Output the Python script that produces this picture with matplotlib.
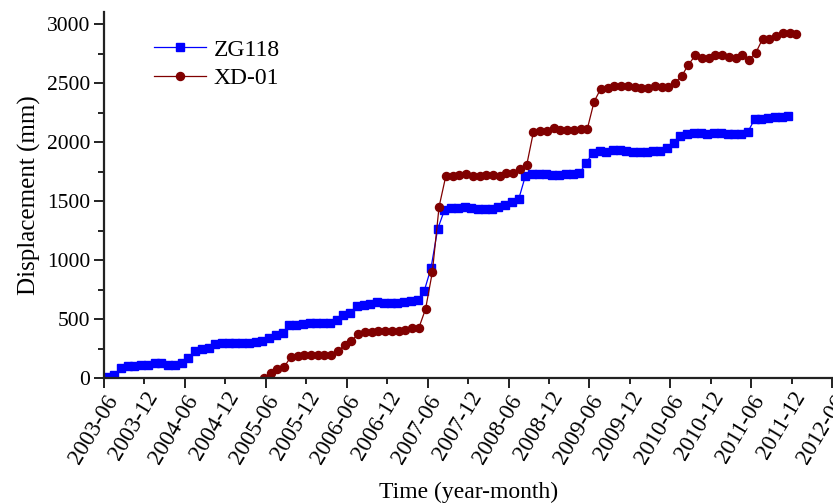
import numpy as np
import matplotlib
matplotlib.use('Agg')
import matplotlib.pyplot as plt
from matplotlib.ticker import FixedLocator

plt.rcParams['font.family'] = ['Liberation Serif', 'DejaVu Serif']

# months counted from 2003-06
zg_start = 0.5
zg118 = [6, 23, 85, 99, 105, 108, 113, 125, 130, 110, 113, 127, 170, 226, 249, 258,
         289, 294, 297, 297, 294, 297, 303, 311, 340, 368, 382, 447, 453, 458, 464, 467,
         464, 467, 490, 532, 552, 614, 617, 631, 642, 640, 637, 637, 645, 654, 659, 739,
         931, 1265, 1423, 1438, 1443, 1446, 1438, 1435, 1435, 1435, 1452, 1466, 1494, 1514,
         1712, 1726, 1729, 1732, 1724, 1724, 1726, 1726, 1735, 1820, 1910, 1924, 1919, 1936,
         1933, 1922, 1913, 1916, 1919, 1922, 1924, 1950, 1995, 2052, 2072, 2074, 2080, 2072,
         2077, 2074, 2072, 2066, 2072, 2086, 2193, 2199, 2205, 2216, 2216, 2219]

xd_start = 23.7
xd01 = [0, 42, 76, 93, 178, 190, 198, 198, 195, 192, 192, 226, 280, 314, 374, 391,
        391, 396, 402, 402, 399, 410, 422, 425, 586, 897, 1452, 1712, 1709, 1723, 1729, 1712,
        1712, 1723, 1723, 1712, 1735, 1740, 1774, 1806, 2086, 2094, 2091, 2120, 2106, 2106, 2103, 2108,
        2114, 2343, 2454, 2462, 2476, 2473, 2476, 2471, 2459, 2459, 2473, 2471, 2465, 2505, 2561, 2657,
        2734, 2717, 2714, 2737, 2737, 2722, 2714, 2742, 2700, 2759, 2875, 2872, 2901, 2921, 2926, 2918]

tick_labels = ['2003-06', '2003-12', '2004-06', '2004-12', '2005-06', '2005-12', '2006-06',
               '2006-12', '2007-06', '2007-12', '2008-06', '2008-12', '2009-06', '2009-12',
               '2010-06', '2010-12', '2011-06', '2011-12', '2012-06']

x_zg = zg_start + np.arange(len(zg118))
x_xd = xd_start + np.arange(len(xd01))

fig = plt.figure(figsize=(8.33, 5.03), dpi=100)
ax = fig.add_axes([0.1249, 0.2485, 0.874, 0.727])

ax.plot(x_zg, zg118, color='#0000FF', lw=0.9, marker='s', ms=5.2, mec='#0000FF',
        label='ZG118')
ax.plot(x_xd, xd01, color='#800000', lw=0.9, marker='o', ms=5.8, mec='#800000',
        label='XD-01')

ax.set_xlim(0, 108)
ax.set_ylim(0, 3100)

major_x = np.arange(0, 109, 12)
minor_x = np.arange(6, 108, 12)
ax.xaxis.set_major_locator(FixedLocator(major_x))
ax.xaxis.set_minor_locator(FixedLocator(minor_x))
ax.set_xticklabels(tick_labels[::2])
ax.set_xticklabels(tick_labels[1::2], minor=True)
for lab in ax.get_xticklabels(which='both'):
    lab.set_rotation(59)
    lab.set_ha('right')
    lab.set_rotation_mode('anchor')
    lab.set_fontsize(16.5)

ax.yaxis.set_major_locator(FixedLocator(np.arange(0, 3001, 500)))
ax.yaxis.set_minor_locator(FixedLocator(np.arange(250, 3001, 500)))
ax.tick_params(axis='y', labelsize=15.5, pad=3)

ax.tick_params(which='major', direction='out', length=7, width=1.4, color='#222222')
ax.tick_params(which='minor', direction='out', length=4, width=1.4, color='#222222')
ax.tick_params(axis='x', which='both', pad=3)

for side in ['top', 'right']:
    ax.spines[side].set_visible(False)
for side in ['left', 'bottom']:
    ax.spines[side].set_linewidth(1.6)
    ax.spines[side].set_color('#222222')

ax.set_ylabel('Displacement (mm)', fontsize=18, labelpad=4)
ax.set_xlabel('Time (year-month)', fontsize=17, labelpad=10)

ax.legend(loc='upper left', bbox_to_anchor=(0.04, 0.985), frameon=False, fontsize=17,
          handlelength=2.2, handletextpad=0.3, labelspacing=0.3)

fig.savefig('out.png', dpi=100)
